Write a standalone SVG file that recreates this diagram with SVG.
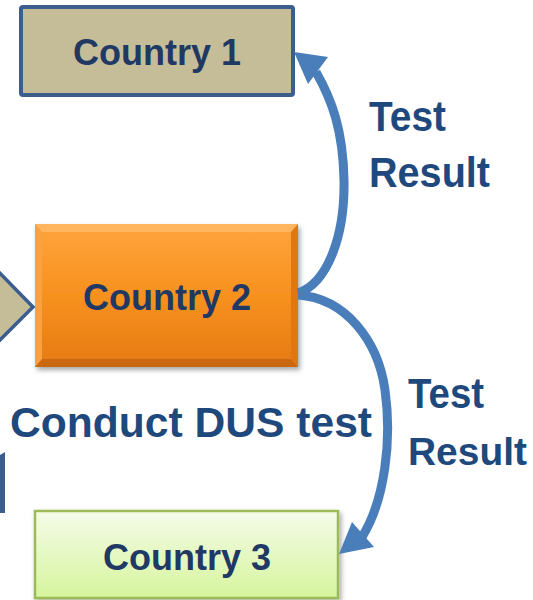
<svg xmlns="http://www.w3.org/2000/svg" width="533" height="600" viewBox="0 0 533 600">
<style>
.lbl{font-family:"Liberation Sans",Arial,sans-serif;font-weight:bold;fill:#1f3864;font-size:36px;text-anchor:middle}
.big{font-family:"Liberation Sans",Arial,sans-serif;font-weight:bold;fill:#1f497d;font-size:42px}
.arc{fill:none;stroke:#4a7ebb;stroke-width:9;stroke-linecap:butt}
.head{fill:#4a7ebb}
</style>
<defs>
<linearGradient id="og" x1="0" y1="0" x2="0" y2="1">
<stop offset="0" stop-color="#ffa43c"/>
<stop offset="0.5" stop-color="#f7911f"/>
<stop offset="1" stop-color="#e57a12"/>
</linearGradient>
<linearGradient id="gg" x1="0" y1="0" x2="0" y2="1">
<stop offset="0" stop-color="#f4fbe8"/>
<stop offset="1" stop-color="#d6f59d"/>
</linearGradient>
<filter id="sh" x="-10%" y="-10%" width="120%" height="130%">
<feDropShadow dx="2" dy="3" stdDeviation="2.5" flood-color="#000" flood-opacity="0.35"/>
</filter>
</defs>
<rect width="533" height="600" fill="#fff"/>
<g id="left-arrow">
<polygon points="-10,263 33,307 -10,350" fill="#c4bd97" stroke="#3b5e8c" stroke-width="3.5"/>
</g>
<g id="left-bar">
<polygon points="0,455 5,452 5,513 0,513" fill="#3b5e8c"/>
</g>
<g id="country1">
<rect x="21" y="7" width="272" height="88" rx="2" fill="#c4bd97" stroke="#3b5e8c" stroke-width="4"/>
<text class="lbl" x="157" y="65">Country 1</text>
</g>
<g id="country2">
<g filter="url(#sh)">
<rect x="35" y="224" width="263" height="143" fill="url(#og)"/>
</g>
<polygon points="35,224 298,224 291,232 42,232" fill="#ffb65e"/>
<polygon points="35,367 298,367 291,359 42,359" fill="#c9680e"/>
<polygon points="35,224 42,232 42,359 35,367" fill="#f9a140"/>
<polygon points="298,224 291,232 291,359 298,367" fill="#e0780f"/>
<text class="lbl" x="167" y="310">Country 2</text>
</g>
<g id="country3">
<rect x="35" y="511" width="303" height="87" fill="url(#gg)" stroke="#9bbb59" stroke-width="2.5" filter="url(#sh)"/>
<text class="lbl" x="187" y="570">Country 3</text>
</g>
<g id="connectors">
<path class="arc" d="M298,293 C328,283 345,235 344,180 C343,130 332,100 316,72"/>
<polygon class="head" points="294,52 328,57 308,84"/>
<path class="arc" d="M298,295 C345,298 378,340 385,390 C392,440 385,500 362,537"/>
<polygon class="head" points="339,554 352,522 374,547"/>
</g>
<g id="labels">
<text class="big" x="369" y="131" textLength="77" lengthAdjust="spacingAndGlyphs">Test</text>
<text class="big" x="369" y="187" textLength="121" lengthAdjust="spacingAndGlyphs">Result</text>
<text class="big" x="408" y="408" textLength="76" lengthAdjust="spacingAndGlyphs">Test</text>
<text class="big" x="408" y="465" font-size="39" style="font-size:39px" textLength="119" lengthAdjust="spacingAndGlyphs">Result</text>
<text class="big" x="10" y="437" textLength="362" lengthAdjust="spacingAndGlyphs">Conduct DUS test</text>
</g>
</svg>
